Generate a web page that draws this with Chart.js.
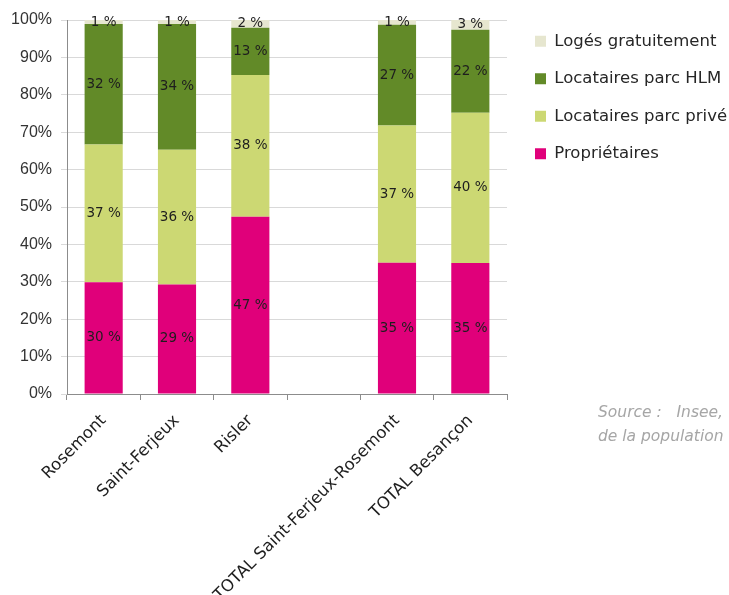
<!DOCTYPE html>
<html>
<head>
<meta charset="utf-8">
<script src="https://cdn.jsdelivr.net/npm/chart.js@4/dist/chart.umd.min.js"></script>
<style>
  html, body { margin: 0; padding: 0; background: #fff; overflow: hidden; width: 729px; height: 595px; }
  #wrap { position: absolute; left: 0; top: 0; width: 740px; height: 595px; }
  .src { position: absolute; left: 598px; font-family: "DejaVu Sans", sans-serif; font-style: italic; font-size: 15.5px; color: #a6a6a6; white-space: pre; }
</style>
</head>
<body>
<div id="wrap"><canvas id="c" width="740" height="595"></canvas></div>
<div class="src" style="top:403px;">Source :   Insee,</div>
<div class="src" style="top:427px;">de la population</div>
<script>
const categories = ['Rosemont', 'Saint-Ferjeux', 'Risler', '', 'TOTAL Saint-Ferjeux-Rosemont', 'TOTAL Besançon'];
const proprietaires = [29.9, 29.3, 47.4, null, 35.1, 35.0];
const locatairesPrive = [36.8, 36.0, 37.9, null, 36.7, 40.2];
const locatairesHLM = [32.2, 33.6, 12.6, null, 26.9, 22.2];
const logesGratuitement = [1.1, 1.1, 2.1, null, 1.3, 2.6];
const yTicks = [0, 10, 20, 30, 40, 50, 60, 70, 80, 90, 100];

const valueLabels = {
  id: 'valueLabels',
  afterDatasetsDraw(chart) {
    const ctx = chart.ctx;
    ctx.save();
    ctx.font = '13.5px "DejaVu Sans", sans-serif';
    ctx.fillStyle = '#1e1e1e';
    ctx.textAlign = 'center';
    ctx.textBaseline = 'middle';
    chart.data.datasets.forEach((ds, i) => {
      const meta = chart.getDatasetMeta(i);
      meta.data.forEach((el, j) => {
        const v = ds.data[j];
        if (v === null || v === undefined) return;
        const y = (el.y + el.base) / 2;
        ctx.fillText(Math.round(v) + ' %', el.x, y);
      });
    });
    ctx.restore();
  }
};

const legendShift = {
  id: 'legendShift',
  afterLayout(chart) {
    if (chart.legend) { chart.legend.left += 7; chart.legend.right += 7; }
  }
};

new Chart(document.getElementById('c'), {
  type: 'bar',
  data: {
    labels: categories,
    datasets: [
      { label: 'Propriétaires', data: proprietaires, backgroundColor: '#e0007a' },
      { label: 'Locataires parc privé', data: locatairesPrive, backgroundColor: '#ccd873' },
      { label: 'Locataires parc HLM', data: locatairesHLM, backgroundColor: '#628a28' },
      { label: 'Logés gratuitement', data: logesGratuitement, backgroundColor: '#e6e6cf' }
    ]
  },
  options: {
    responsive: false,
    animation: false,
    layout: { padding: { left: 0, top: 12, right: 0, bottom: 0 } },
    datasets: { bar: { barPercentage: 0.52, categoryPercentage: 1.0, borderWidth: 0 } },
    plugins: {
      tooltip: { enabled: false },
      legend: {
        position: 'right',
        align: 'start',
        reverse: true,
        maxWidth: 260,
        labels: {
          boxWidth: 11,
          boxHeight: 11,
          padding: 21,
          color: '#262626',
          font: { family: '"DejaVu Sans", sans-serif', size: 16.5 }
        }
      }
    },
    scales: {
      x: {
        stacked: true,
        grid: { display: true, offset: true, drawOnChartArea: false, drawTicks: true, tickLength: 6, color: '#8c8c8c' },
        border: { display: true, color: '#8c8c8c' },
        ticks: {
          autoSkip: false,
          maxRotation: 45,
          minRotation: 45,
          padding: 11,
          color: '#1e1e1e',
          font: { family: '"DejaVu Sans", sans-serif', size: 16.5 }
        },
        afterFit(s) { s.height = 201; s.paddingLeft = 0; s.paddingRight = 233; }
      },
      y: {
        stacked: true,
        min: 0,
        max: 100,
        afterBuildTicks(s) { s.ticks = yTicks.map(v => ({ value: v })); },
        grid: { color: '#d9d9d9', tickLength: 6 },
        border: { display: true, color: '#8c8c8c' },
        ticks: {
          padding: 9,
          color: '#333333',
          font: { family: '"Liberation Sans", sans-serif', size: 16 },
          callback: v => v + '%'
        },
        afterFit(s) { s.width = 67; s.paddingTop = 20; }
      }
    }
  },
  plugins: [valueLabels, legendShift]
});
</script>
</body>
</html>
